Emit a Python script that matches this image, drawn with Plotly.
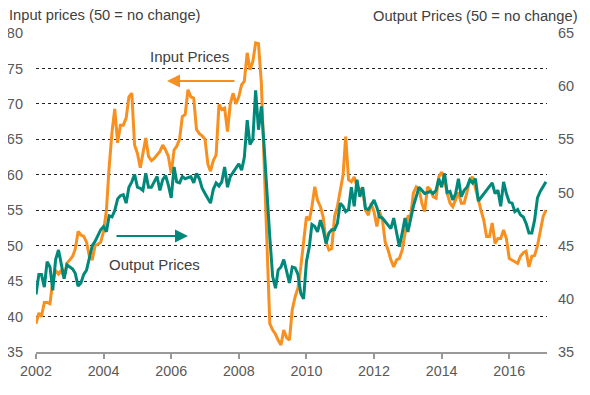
import plotly.graph_objects as go
import pandas as pd

months = pd.date_range("2002-01-01", periods=182, freq="MS")

input_prices = [
    39.0, 40.5, 40.0, 42.0, 42.0, 41.8, 45.0, 46.5, 46.0, 46.5, 45.5, 47.5,
    48.0, 48.5, 49.5, 52.0, 51.5, 51.3, 50.5, 48.5, 48.0, 50.0, 50.2, 50.5,
    52.0, 55.0, 61.0, 66.0, 69.3, 64.5, 67.0, 67.0, 68.0, 71.0, 71.5, 64.2,
    63.0, 61.0, 63.0, 65.2, 62.6, 62.0, 62.3, 62.8, 63.3, 64.2, 63.5, 62.6,
    60.2, 63.5, 64.0, 65.0, 68.2, 68.5, 72.0, 71.0, 70.8, 66.4, 65.8, 65.5,
    65.0, 61.5, 60.5, 62.0, 62.8, 69.9, 69.2, 69.4, 66.1, 70.0, 71.5, 70.0,
    71.0, 72.7, 73.2, 77.2, 74.8, 76.0, 78.6, 78.5, 72.9, 61.6, 49.9, 39.0,
    38.1, 37.5, 36.7, 36.0, 38.1, 37.0, 36.7, 41.0, 42.8, 44.0, 47.0, 51.0,
    54.1, 53.6, 55.5, 58.3, 56.4, 55.5, 54.0, 50.5, 49.4, 49.6, 54.1, 55.5,
    57.9, 60.0, 65.4, 59.3, 59.0, 59.7, 58.3, 58.0, 57.9, 55.0, 54.3, 56.0,
    54.8, 52.7, 54.8, 53.6, 50.5, 49.4, 48.0, 47.0, 48.0, 48.2, 49.4, 51.5,
    54.1, 54.3, 57.4, 58.3, 58.0, 56.0, 54.8, 58.3, 57.9, 56.9, 56.7, 59.7,
    60.4, 59.3, 57.4, 56.0, 55.5, 56.5, 57.5, 56.0, 56.0, 57.5, 59.3, 59.7,
    57.9, 56.5, 55.0, 53.6, 51.3, 51.3, 53.2, 50.3, 51.0, 51.0, 52.2, 51.0,
    48.2, 48.0, 47.7, 47.5, 48.5, 49.0, 49.2, 47.0, 48.5, 48.6, 50.0, 52.2,
    54.1, 55.0,
]

output_prices = [
    40.4, 42.3, 42.3, 41.1, 43.5, 43.0, 40.8, 43.7, 44.6, 43.2, 41.9, 43.2,
    43.0, 42.8, 42.4, 41.2, 41.5, 42.3, 42.7, 43.8, 45.0, 45.4, 46.0, 46.5,
    46.8, 46.3, 47.8, 47.7, 48.3, 49.4, 49.7, 49.8, 49.0, 50.5, 51.0, 51.7,
    50.5, 50.4, 50.2, 51.8, 50.5, 50.5, 51.0, 51.5, 50.2, 51.2, 51.6, 50.7,
    49.5, 52.4, 51.0, 50.9, 51.5, 51.3, 51.4, 51.5, 50.9, 51.8, 51.3, 50.4,
    49.9, 49.4, 49.0, 50.3, 50.9, 50.6, 51.0, 52.4, 50.5, 51.5, 51.9, 52.3,
    52.7, 52.1, 53.3, 56.8, 54.5, 55.0, 59.6, 55.9, 58.1, 54.3, 49.6, 45.8,
    42.1, 41.0, 42.7, 43.0, 43.7, 42.7, 41.5, 43.0, 42.9, 42.3, 40.5, 40.0,
    43.5, 44.9, 47.0, 46.8, 46.3, 47.4, 46.5, 45.2, 46.2, 46.5, 46.5, 47.1,
    49.0, 48.7, 48.2, 48.4, 50.5, 48.7, 51.2, 49.6, 50.5, 48.5, 48.4, 48.8,
    49.3, 48.6, 47.7, 47.6, 47.3, 47.0, 46.6, 47.6, 46.3, 44.9, 46.2, 47.6,
    46.3, 47.7, 48.7, 49.6, 50.5, 50.2, 49.9, 50.0, 50.1, 49.9, 50.2, 51.3,
    50.5, 51.8, 50.0, 50.1, 49.3, 49.9, 51.3, 49.6, 50.2, 50.5, 51.2, 50.9,
    51.3, 49.2, 49.5, 49.9, 50.2, 50.5, 50.9, 49.9, 50.2, 48.7, 51.0, 49.9,
    49.1, 49.0, 48.2, 48.4, 47.9, 47.7, 47.1, 46.2, 46.2, 47.4, 49.5, 50.1,
    50.5, 51.0,
]

year_ticks = ["2002", "2004", "2006", "2008", "2010", "2012", "2014", "2016"]

ORANGE = "#F7901E"
TEAL = "#00897B"
TXT = "#404040"
TICK = "#595959"
FONT = "Liberation Sans, Arial, sans-serif"

# page body has an 8px default margin: compensate so the plot area sits at
# page x 36..547, y 33..352
OFF = 8
PL, PT, PW, PH = 36, 33, 511, 319

fig = go.Figure()
fig.add_trace(go.Scatter(x=months, y=input_prices, mode="lines",
                         line=dict(color=ORANGE, width=3), yaxis="y",
                         name="Input Prices", hoverinfo="skip"))
fig.add_trace(go.Scatter(x=months, y=output_prices, mode="lines",
                         line=dict(color=TEAL, width=3), yaxis="y2",
                         name="Output Prices", hoverinfo="skip"))

fig.update_layout(
    width=590, height=395,
    margin=dict(l=PL - OFF, r=590 - (PL - OFF) - PW, t=PT - OFF, b=395 - (PT - OFF) - PH),
    paper_bgcolor="white", plot_bgcolor="white",
    showlegend=False,
    font=dict(family=FONT, color=TICK, size=14),
    xaxis=dict(
        type="date", automargin=False,
        range=["2002-01-01", "2017-02-12"],
        tickvals=[f"{y}-01-01" for y in year_ticks],
        ticktext=year_ticks,
        ticks="outside", ticklen=5, tickwidth=1.5, tickcolor="#999999",
        showline=True, linecolor="#999999", linewidth=2,
        showgrid=False, zeroline=False,
        tickfont=dict(size=14.3, color=TICK),
    ),
    yaxis=dict(
        range=[35, 80], dtick=5, tick0=35, automargin=False,
        showgrid=True, gridcolor="#222222", gridwidth=1, griddash="dot",
        zeroline=False, showline=False, ticks="",
        ticklabelstandoff=12,
        tickfont=dict(size=14.5, color=TICK),
    ),
    yaxis2=dict(
        range=[35, 65], dtick=5, tick0=35, automargin=False,
        overlaying="y", side="right",
        showgrid=False, zeroline=False, showline=False, ticks="",
        ticklabelstandoff=10,
        tickfont=dict(size=14.5, color=TICK),
    ),
)

def px_to_paper(px, py):
    return (px - PL) / PW, (PT + PH - py) / PH

annotations = []
x, y = px_to_paper(7, 15)
annotations.append(dict(text="Input prices (50 = no change)", xref="paper", yref="paper",
                        x=x, y=y, xanchor="left", yanchor="middle", showarrow=False,
                        font=dict(size=14.7, color=TXT, family=FONT)))
x, y = px_to_paper(580, 15.5)
annotations.append(dict(text="Output Prices (50 = no change)", xref="paper", yref="paper",
                        x=x, y=y, xanchor="right", yanchor="middle", showarrow=False,
                        font=dict(size=14.7, color=TXT, family=FONT)))
x, y = px_to_paper(189, 57)
annotations.append(dict(text="Input Prices", xref="paper", yref="paper", x=x, y=y,
                        xanchor="center", yanchor="middle", showarrow=False,
                        font=dict(size=15, color=TXT, family=FONT)))
x, y = px_to_paper(154, 264)
annotations.append(dict(text="Output Prices", xref="paper", yref="paper", x=x, y=y,
                        xanchor="center", yanchor="middle", showarrow=False,
                        font=dict(size=15, color=TXT, family=FONT)))
x, y = px_to_paper(167, 81)
annotations.append(dict(text="", xref="paper", yref="paper", x=x, y=y,
                        ax=69, ay=0, showarrow=True, arrowhead=2, arrowsize=1.3,
                        arrowwidth=2, arrowcolor=ORANGE))
x, y = px_to_paper(188, 236)
annotations.append(dict(text="", xref="paper", yref="paper", x=x, y=y,
                        ax=-73, ay=0, showarrow=True, arrowhead=2, arrowsize=1.3,
                        arrowwidth=2, arrowcolor=TEAL))

fig.update_layout(annotations=annotations)

fig.write_html("out.html")
